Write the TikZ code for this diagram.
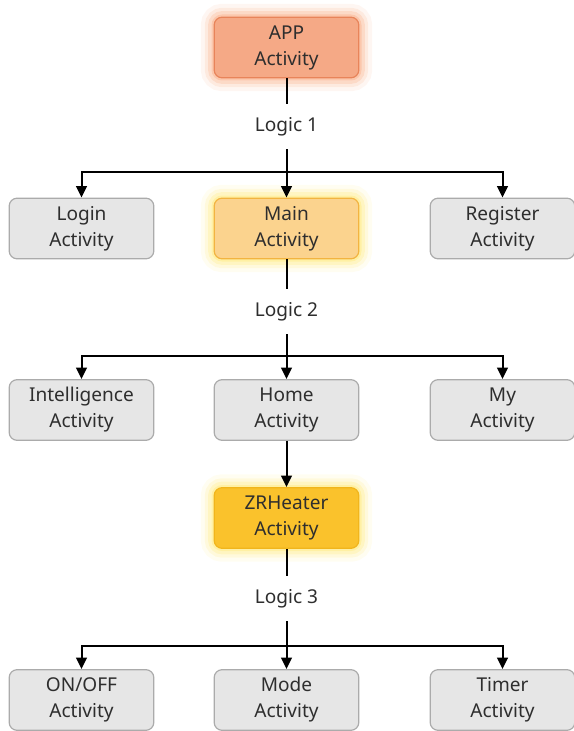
\documentclass[tikz,border=0pt]{standalone}
\usepackage{fontspec}
\setmainfont{Noto Sans}
\usetikzlibrary{arrows.meta}
\definecolor{ink}{HTML}{2E2E2E}
\definecolor{greyfill}{HTML}{E6E6E6}
\definecolor{greyline}{HTML}{ABABAB}
\definecolor{appfill}{HTML}{F5A986}
\definecolor{appline}{HTML}{E8845A}
\definecolor{appglow}{HTML}{F7905A}
\definecolor{mainfill}{HTML}{FBD38E}
\definecolor{mainline}{HTML}{F2B441}
\definecolor{zrfill}{HTML}{FAC22C}
\definecolor{zrline}{HTML}{F1B51C}
\definecolor{yglow}{HTML}{FFE24A}

\begin{document}
\begin{tikzpicture}[
    x=0.75pt, y=-0.75pt,
    every node/.style={font=\fontsize{14.3}{19.5}\selectfont, text=ink},
    box/.style={draw=greyline, fill=greyfill, line width=0.9pt, rounded corners=6pt,
        minimum width=108.5pt, minimum height=45.5pt, inner sep=0pt, align=center},
    glow/.style={preaction={draw=#1, draw opacity=0.08, line width=20pt},
        preaction={draw=#1, draw opacity=0.12, line width=14pt},
        preaction={draw=#1, draw opacity=0.18, line width=9pt},
        preaction={draw=#1, draw opacity=0.25, line width=4pt}},
    logic/.style={inner sep=0pt, minimum height=34pt},
    link/.style={line width=1.5pt},
    arr/.style={line width=1.5pt, -{Triangle[length=8.5pt, width=8pt]}},
]
\useasboundingbox (0,0) rectangle (574,731);

% ---------------- top
\node[box, glow=appglow, fill=appfill, draw=appline] (app) at (286.5,47.5) {APP\\Activity};
\node[logic] (logic1) at (286.5,126.5) {Logic 1};
\coordinate (j1) at (286.5,172);

% ---------------- row 1
\node[box] (login) at (81.5,228.5) {Login\\Activity};
\node[box, glow=yglow, fill=mainfill, draw=mainline] (main) at (286.5,228.5) {Main\\Activity};
\node[box] (register) at (502.5,228.5) {Register\\Activity};
\draw[link] (app) -- (logic1);
\draw[arr] (logic1) -- (main);
\draw[arr] (j1) -| (login);
\draw[arr] (j1) -| (register);

% ---------------- row 2
\node[logic] (logic2) at (286.5,311.5) {Logic 2};
\coordinate (j2) at (286.5,356);
\node[box] (intel) at (81.5,410) {Intelligence\\Activity};
\node[box] (home) at (286.5,410) {Home\\Activity};
\node[box] (my) at (502.5,410) {My\\Activity};
\draw[link] (main) -- (logic2);
\draw[arr] (logic2) -- (home);
\draw[arr] (j2) -| (intel);
\draw[arr] (j2) -| (my);

% ---------------- heater
\node[box, glow=yglow, fill=zrfill, draw=zrline] (zr) at (286.5,518) {ZRHeater\\Activity};
\draw[arr] (home) -- (zr);

% ---------------- row 3
\node[logic] (logic3) at (286.5,598.5) {Logic 3};
\coordinate (j3) at (286.5,646);
\node[box] (onoff) at (81.5,700) {ON/OFF\\Activity};
\node[box] (mode) at (286.5,700) {Mode\\Activity};
\node[box] (timer) at (502.5,700) {Timer\\Activity};
\draw[link] (zr) -- (logic3);
\draw[arr] (logic3) -- (mode);
\draw[arr] (j3) -| (onoff);
\draw[arr] (j3) -| (timer);

\end{tikzpicture}
\end{document}
